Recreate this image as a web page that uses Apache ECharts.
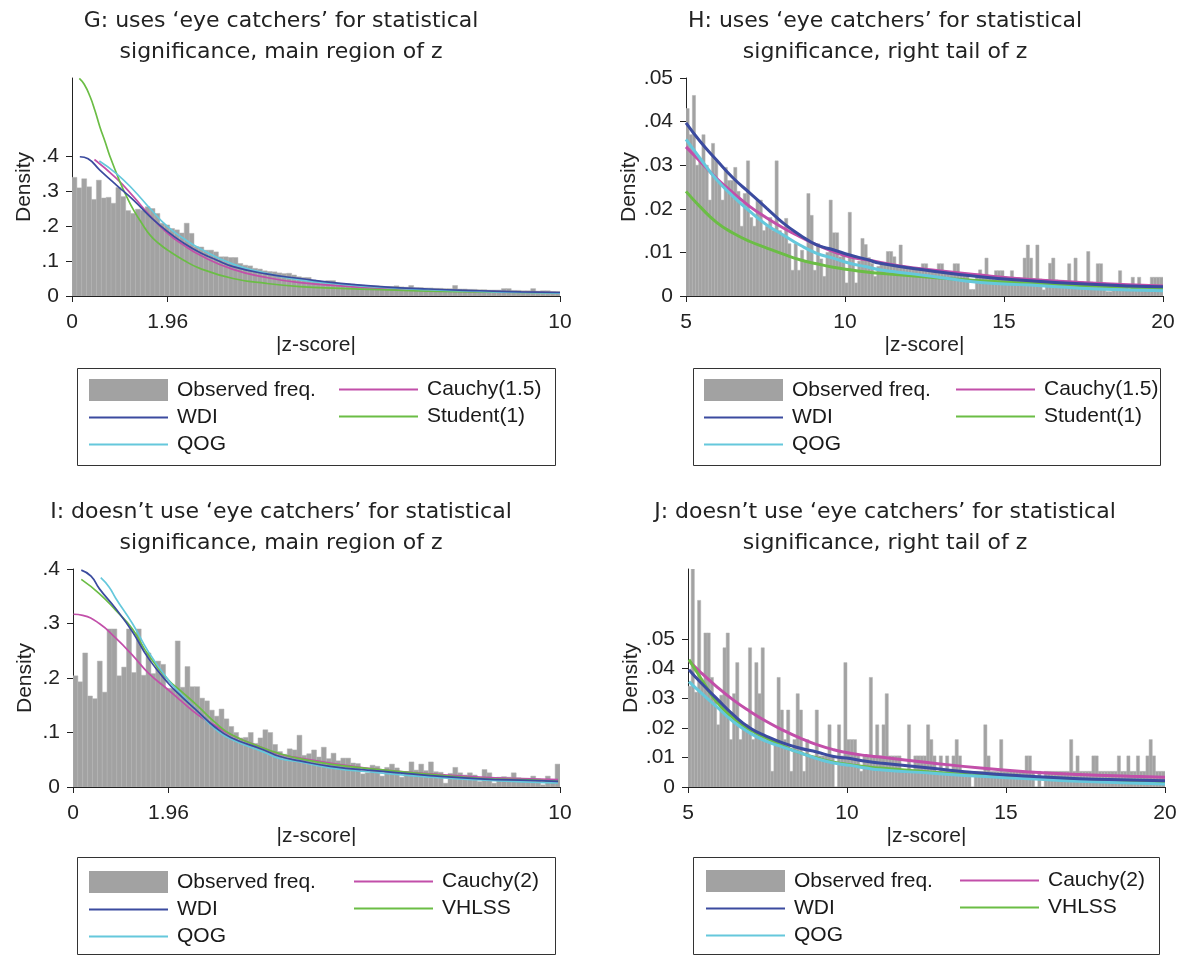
<!DOCTYPE html>
<html><head><meta charset="utf-8">
<script src="https://cdn.jsdelivr.net/npm/echarts@6/dist/echarts.min.js"></script>
<style>html,body{margin:0;padding:0;background:#fff}#c{width:1185px;height:956px}</style>
</head><body><div id="c"></div>
<script>
// ---------------- DATA ----------------
const gTitle = "G: uses \u2018eye catchers\u2019 for statistical\nsignificance, main region of z";
const hTitle = "H: uses \u2018eye catchers\u2019 for statistical\nsignificance, right tail of z";
const iTitle = "I: doesn\u2019t use \u2018eye catchers\u2019 for statistical\nsignificance, main region of z";
const jTitle = "J: doesn\u2019t use \u2018eye catchers\u2019 for statistical\nsignificance, right tail of z";

const mainXTicks = [0, 1.96, 10];
const tailXTicks = [5, 10, 15, 20];
const gYTicks = [0, 0.1, 0.2, 0.3, 0.4];
const hYTicks = [0, 0.01, 0.02, 0.03, 0.04, 0.05];
const iYTicks = [0, 0.1, 0.2, 0.3, 0.4];
const jYTicks = [0, 0.01, 0.02, 0.03, 0.04, 0.05];

// histogram bin heights (bin width 0.1)
const gBinStart = 0, hBinStart = 5, iBinStart = 0, jBinStart = 5, binWidth = 0.1;
const gBins = [
0.339,0.309,0.335,0.312,0.276,0.331,0.280,0.282,0.265,0.310,
0.284,0.244,0.236,0.248,0.245,0.255,0.250,0.236,0.208,0.203,
0.193,0.189,0.180,0.208,0.179,0.141,0.140,0.131,0.131,0.126,
0.112,0.112,0.110,0.110,0.093,0.088,0.086,0.079,0.077,0.072,
0.070,0.069,0.066,0.064,0.065,0.060,0.055,0.053,0.053,0.046,
0.043,0.041,0.044,0.044,0.037,0.036,0.035,0.034,0.032,0.031,
0.030,0.029,0.029,0.028,0.027,0.027,0.029,0.026,0.025,0.030,
0.024,0.024,0.023,0.023,0.022,0.022,0.021,0.021,0.030,0.020,
0.020,0.019,0.019,0.018,0.018,0.017,0.017,0.017,0.021,0.021,
0.016,0.016,0.015,0.015,0.021,0.014,0.015,0.015,0.013,0.013];
const hBins = [
0.043,0.037,0.046,0.030,0.031,0.037,0.030,0.022,0.035,0.031,
0.026,0.022,0.0295,0.0265,0.0265,0.0295,0.024,0.016,0.0235,0.031,
0.018,0.016,0.022,0.022,0.015,0.016,0.018,0.015,0.031,0.015,
0.014,0.0178,0.012,0.0059,0.012,0.0059,0.0105,0.008,0.0235,0.0185,
0.0059,0.012,0.0085,0.0045,0.010,0.022,0.0145,0.0145,0.009,0.0095,
0.003,0.0192,0.009,0.003,0.008,0.0132,0.0118,0.0088,0.0075,0.0045,
0.0068,0.0073,0.0075,0.0102,0.0102,0.009,0.007,0.0117,0.0065,0.0065,
0.0062,0.0062,0.006,0.006,0.0074,0.0074,0.0058,0.0058,0.0056,0.0074,
0.0074,0.0055,0.0054,0.0053,0.0074,0.0074,0.0052,0.0051,0.005,0.0015,
0.0015,0.0049,0.006,0.0048,0.0087,0.0047,0.0046,0.0058,0.0058,0.0058,
0.0044,0.0043,0.0058,0.0042,0.0042,0.0041,0.0087,0.0117,0.0087,0.004,
0.0117,0.0039,0.0014,0.0038,0.0075,0.0087,0.0037,0.0036,0.0036,0.0035,
0.0074,0.0034,0.0087,0.0033,0.0033,0.0032,0.0102,0.0032,0.0031,0.0074,
0.0074,0.003,0.001,0.001,0.0029,0.0029,0.0058,0.0028,0.0027,0.0014,
0.0043,0.0026,0.0043,0.0026,0.0025,0.0025,0.0043,0.0043,0.0043,0.0043];
const iBins = [
0.204,0.193,0.246,0.167,0.162,0.231,0.174,0.290,0.290,0.204,
0.220,0.290,0.210,0.290,0.205,0.246,0.208,0.231,0.225,0.181,
0.181,0.268,0.183,0.221,0.184,0.184,0.163,0.158,0.141,0.130,
0.143,0.125,0.111,0.100,0.090,0.091,0.100,0.080,0.090,0.105,
0.100,0.078,0.065,0.060,0.070,0.068,0.095,0.058,0.061,0.068,
0.055,0.073,0.052,0.062,0.048,0.053,0.053,0.044,0.043,0.024,
0.026,0.040,0.038,0.020,0.036,0.042,0.035,0.018,0.028,0.046,
0.031,0.042,0.030,0.046,0.028,0.027,0.007,0.025,0.036,0.026,
0.022,0.026,0.022,0.010,0.032,0.026,0.007,0.018,0.019,0.018,
0.026,0.017,0.016,0.016,0.020,0.015,0.004,0.020,0.014,0.042];
const jBins = [
0.034,0.0736,0.032,0.063,0.035,0.052,0.052,0.037,0.030,0.021,
0.031,0.047,0.052,0.016,0.0315,0.042,0.016,0.021,0.021,0.047,
0.016,0.042,0.0315,0.047,0.016,0.016,0.0053,0.016,0.037,0.026,
0.016,0.026,0.0053,0.016,0.0315,0.026,0.0053,0.016,0.0105,0.0105,
0.026,0.0105,0.0105,0.0105,0.021,0.0105,0,0.021,0.0105,0.042,
0.016,0.016,0.016,0.0105,0.0053,0.0105,0.0105,0.037,0.0105,0.021,
0.0105,0.021,0.0315,0.0105,0.0105,0.0105,0.0105,0.0053,0.0053,0.021,
0.0053,0.0105,0.0105,0.0105,0.0105,0.021,0.016,0.0105,0.0053,0.0105,
0.0053,0.0105,0.0053,0.0105,0.016,0.0105,0.0053,0.0053,0.0053,0,
0.0053,0.0053,0.0053,0.021,0.0105,0.0053,0.0053,0.0053,0.016,0.0053,
0.0053,0.0053,0.0053,0.0053,0.0053,0.0053,0.0105,0.0105,0.0053,0,
0.0053,0,0.0053,0.0053,0.0053,0.0053,0.0053,0.0053,0.0053,0.0053,
0.016,0.0053,0.0105,0.0053,0.0053,0.0053,0.0053,0.0105,0.0105,0.0053,
0.0053,0.0053,0.0053,0.0053,0.0053,0.0105,0.0053,0.0053,0.0105,0.0053,
0.0053,0.0105,0.0053,0.0053,0.0105,0.016,0.0105,0.0053,0.0053,0.0053];

// fitted density curves [z, density]
const gWDI = [[0.16,0.398],[0.33,0.392],[0.57,0.36],[0.91,0.317],[1.26,0.274],[1.6,0.227],[1.96,0.184],[2.28,0.152],[2.62,0.124],[2.96,0.103],[3.3,0.084],[3.98,0.063],[4.67,0.05],[5.5,0.036],[6.31,0.027],[7.3,0.02],[8.36,0.015],[9.2,0.012],[10,0.01]];
const gQOG = [[0.56,0.386],[0.91,0.35],[1.26,0.303],[1.6,0.25],[1.96,0.198],[2.28,0.165],[2.62,0.136],[3.3,0.091],[3.98,0.065],[4.67,0.046],[5.5,0.034],[6.31,0.025],[7.3,0.018],[8.36,0.013],[9.2,0.010],[10,0.008]];
const gCauchy = [[0.46,0.39],[0.91,0.336],[1.26,0.284],[1.6,0.229],[1.96,0.179],[2.28,0.146],[2.62,0.117],[3.3,0.076],[3.98,0.053],[4.67,0.038],[5.5,0.029],[6.31,0.022],[7.3,0.017],[8.36,0.013],[9.2,0.011],[10,0.009]];
const gStudent = [[0.15,0.622],[0.25,0.605],[0.37,0.57],[0.47,0.53],[0.57,0.484],[0.68,0.44],[0.78,0.398],[0.98,0.327],[1.12,0.284],[1.26,0.246],[1.42,0.21],[1.6,0.174],[1.78,0.15],[1.96,0.131],[2.28,0.103],[2.62,0.079],[3.3,0.05],[3.98,0.036],[4.67,0.027],[5.5,0.022],[6.31,0.018],[7.3,0.014],[8.36,0.012],[9.2,0.010],[10,0.009]];

const hWDI = [[5.0,0.0397],[5.44,0.0355],[5.96,0.0312],[6.49,0.027],[7.01,0.0236],[7.54,0.0201],[8.06,0.0167],[8.58,0.014],[9.11,0.0117],[9.63,0.0106],[10.15,0.0094],[10.68,0.0084],[11.1,0.0075],[12.67,0.0058],[14.25,0.0044],[15.82,0.0035],[17.39,0.0028],[18.96,0.0023],[20,0.0021]];
const hQOG = [[5.0,0.0359],[5.44,0.0316],[5.96,0.0267],[6.49,0.0228],[7.01,0.0194],[7.54,0.0163],[8.06,0.014],[8.58,0.0117],[9.11,0.0098],[9.63,0.0087],[10.15,0.0075],[10.68,0.0067],[11.1,0.006],[11.73,0.0054],[12.67,0.0046],[14.25,0.0031],[15.82,0.0025],[17.39,0.0018],[18.96,0.0014],[20,0.0012]];
const hCauchy = [[5.0,0.0342],[5.44,0.0309],[5.96,0.027],[6.49,0.0236],[7.01,0.0205],[7.54,0.0179],[8.06,0.0156],[8.58,0.0136],[9.11,0.0117],[9.63,0.0102],[10.15,0.009],[10.68,0.0083],[11.73,0.0069],[12.67,0.006],[14.25,0.0048],[15.82,0.0038],[17.39,0.0031],[20,0.0023]];
const hStudent = [[5.0,0.024],[5.44,0.0205],[5.96,0.0169],[6.49,0.0144],[7.01,0.0125],[7.54,0.011],[8.06,0.0096],[8.58,0.0083],[9.11,0.0074],[9.63,0.0066],[10.15,0.006],[10.68,0.0055],[11.1,0.0052],[12.67,0.0043],[14.25,0.0035],[15.82,0.0029],[17.39,0.0024],[20,0.0017]];

const iWDI = [[0.17,0.398],[0.37,0.387],[0.54,0.364],[0.88,0.327],[1.22,0.285],[1.55,0.236],[1.96,0.19],[2.23,0.166],[2.57,0.138],[2.9,0.111],[3.24,0.091],[3.92,0.068],[4.25,0.056],[4.66,0.048],[5.28,0.038],[6.3,0.029],[7.33,0.021],[8.36,0.015],[9.38,0.012],[9.96,0.0104]];
const iQOG = [[0.57,0.384],[0.74,0.367],[0.88,0.346],[1.22,0.3],[1.55,0.248],[1.96,0.196],[2.23,0.169],[2.57,0.138],[2.9,0.108],[3.24,0.088],[3.92,0.064],[4.25,0.052],[4.66,0.046],[5.28,0.035],[6.3,0.026],[7.33,0.018],[8.36,0.013],[9.38,0.009],[9.96,0.0073]];
const iCauchy = [[0.01,0.317],[0.2,0.315],[0.54,0.3],[0.88,0.273],[1.22,0.242],[1.55,0.209],[1.96,0.178],[2.23,0.157],[2.57,0.132],[2.9,0.114],[3.24,0.096],[3.92,0.071],[4.25,0.06],[4.66,0.053],[5.28,0.044],[6.3,0.032],[7.33,0.024],[8.36,0.018],[9.38,0.015],[9.96,0.0134]];
const iVHLSS = [[0.17,0.381],[0.54,0.355],[0.88,0.324],[1.22,0.29],[1.55,0.242],[1.96,0.196],[2.23,0.175],[2.57,0.148],[2.9,0.12],[3.24,0.097],[3.92,0.071],[4.25,0.061],[4.66,0.052],[5.28,0.042],[6.3,0.032],[7.33,0.023],[8.36,0.016],[9.38,0.013],[9.96,0.0104]];

const jWDI = [[5.03,0.0396],[5.37,0.0356],[5.89,0.030],[6.42,0.0244],[6.95,0.0199],[7.47,0.0171],[8.0,0.0148],[8.53,0.0131],[9.05,0.0118],[9.58,0.0103],[10.1,0.0096],[10.6,0.0087],[11.04,0.0081],[12.6,0.0064],[14.2,0.0047],[15.75,0.0036],[17.3,0.0028],[18.9,0.0024],[20,0.0021]];
const jQOG = [[5.03,0.0356],[5.37,0.0322],[5.89,0.0272],[6.42,0.0221],[6.95,0.0182],[7.47,0.0154],[8.0,0.0134],[8.53,0.0115],[9.05,0.0096],[9.58,0.0081],[10.1,0.0073],[10.6,0.0064],[11.04,0.0058],[12.6,0.0047],[14.2,0.0036],[15.75,0.0028],[17.3,0.0019],[20,0.001]];
const jCauchy = [[5.03,0.0426],[5.37,0.039],[5.89,0.034],[6.42,0.0294],[6.95,0.0255],[7.47,0.0221],[8.0,0.0191],[8.53,0.0165],[9.05,0.0143],[9.58,0.0126],[10.1,0.0114],[10.6,0.0106],[11.04,0.0101],[12.6,0.0082],[14.2,0.0064],[15.75,0.0051],[17.3,0.0042],[18.9,0.0036],[20,0.0033]];
const jVHLSS = [[5.03,0.043],[5.37,0.0373],[5.89,0.0289],[6.42,0.0233],[6.95,0.0193],[7.47,0.0165],[8.0,0.0137],[8.53,0.0115],[9.05,0.0098],[9.58,0.0084],[10.1,0.0075],[10.6,0.0068],[11.04,0.0064],[12.6,0.0051],[14.2,0.0039],[15.75,0.003],[17.3,0.0022],[20,0.0015]];

// ---------------- STYLE ----------------
const FONT = '"Liberation Sans", Arial, sans-serif';
const TFONT = '"DejaVu Sans", Verdana, sans-serif';
const C = {bar:'#a2a2a2', wdi:'#3b4b9f', qog:'#65c8dc', cauchy:'#c24fa9', green:'#6bbd45', axis:'#222'};

function fmt(v){ if (Math.abs(v) < 1e-9) return '0'; return String(+v.toFixed(3)).replace(/^0\./, '.'); }
function binData(start, arr){ return arr.map((h,k)=>[start + k*binWidth, start + (k+1)*binWidth, h]); }

const panels = [
 {title:gTitle, tx:276, ty:1, grid:{left:72, top:78, width:488, height:218}, xmin:0, xmax:10, xticks:mainXTicks, ymax:0.623, yticks:gYTicks,
  bins:binData(gBinStart,gBins), lw:1.7, lines:[['Cauchy(1.5)',gCauchy,C.cauchy],['Student(1)',gStudent,C.green],['QOG',gQOG,C.qog],['WDI',gWDI,C.wdi]],
  leftCol:['Observed freq.','WDI','QOG'], rightCol:['Cauchy(1.5)','Student(1)'], lx:88, rx:338, ly:379, box:[77,368,478,97]},
 {title:hTitle, tx:880, ty:1, grid:{left:686, top:78, width:477, height:218}, xmin:5, xmax:20, xticks:tailXTicks, ymax:0.05, yticks:hYTicks,
  bins:binData(hBinStart,hBins), lw:3, lines:[['Cauchy(1.5)',hCauchy,C.cauchy],['Student(1)',hStudent,C.green],['QOG',hQOG,C.qog],['WDI',hWDI,C.wdi]],
  leftCol:['Observed freq.','WDI','QOG'], rightCol:['Cauchy(1.5)','Student(1)'], lx:703, rx:955, ly:379, box:[693,368,467,97]},
 {title:iTitle, tx:276, ty:492, grid:{left:73, top:569, width:487, height:218}, xmin:0, xmax:10, xticks:mainXTicks, ymax:0.4, yticks:iYTicks,
  bins:binData(iBinStart,iBins), lw:1.7, lines:[['Cauchy(2)',iCauchy,C.cauchy],['VHLSS',iVHLSS,C.green],['QOG',iQOG,C.qog],['WDI',iWDI,C.wdi]],
  leftCol:['Observed freq.','WDI','QOG'], rightCol:['Cauchy(2)','VHLSS'], lx:88, rx:353, ly:871, box:[77,857,478,97]},
 {title:jTitle, tx:880, ty:492, grid:{left:688, top:569, width:477, height:218}, xmin:5, xmax:20, xticks:tailXTicks, ymax:0.0736, yticks:jYTicks,
  bins:binData(jBinStart,jBins), lw:3, lines:[['Cauchy(2)',jCauchy,C.cauchy],['VHLSS',jVHLSS,C.green],['QOG',jQOG,C.qog],['WDI',jWDI,C.wdi]],
  leftCol:['Observed freq.','WDI','QOG'], rightCol:['Cauchy(2)','VHLSS'], lx:705, rx:959, ly:870, box:[693,857,466,97]}
];

const option = {animation:false, backgroundColor:'#fff', title:[], grid:[], xAxis:[], yAxis:[], series:[], legend:[], graphic:[]};
const labelStyle = {color:C.axis, fontFamily:FONT, fontSize:21};

panels.forEach((p, idx)=>{
  option.title.push({text:p.title, left:p.tx, top:p.ty, textAlign:'center',
    textStyle:{fontFamily:TFONT, fontSize:22, fontWeight:'normal', color:'#222', lineHeight:31}});
  option.grid.push(Object.assign({containLabel:false}, p.grid));
  option.xAxis.push({type:'value', gridIndex:idx, min:p.xmin, max:p.xmax,
    name:'|z-score|', nameLocation:'middle', nameGap:39, nameTextStyle:labelStyle,
    axisLine:{show:true, onZero:false, lineStyle:{color:C.axis, width:1}},
    axisTick:{show:true, length:6, customValues:p.xticks, lineStyle:{color:C.axis}},
    axisLabel:Object.assign({customValues:p.xticks, margin:16, formatter:(v)=>String(v), hideOverlap:false, showMinLabel:true, showMaxLabel:true}, labelStyle),
    splitLine:{show:false}});
  option.yAxis.push({type:'value', gridIndex:idx, min:0, max:p.ymax,
    name:'Density', nameLocation:'middle', nameGap:37, nameTextStyle:labelStyle,
    axisLine:{show:true, onZero:false, lineStyle:{color:C.axis, width:1}},
    axisTick:{show:true, length:6, customValues:p.yticks, lineStyle:{color:C.axis}},
    axisLabel:Object.assign({customValues:p.yticks, margin:13, formatter:fmt}, labelStyle),
    splitLine:{show:false}});
  option.series.push({type:'custom', name:'Observed freq.', xAxisIndex:idx, yAxisIndex:idx, z:1,
    itemStyle:{color:C.bar}, encode:{x:[0,1], y:2}, data:p.bins, clip:true,
    renderItem:(params, api)=>{
      const a = api.coord([api.value(0), api.value(2)]);
      const b = api.coord([api.value(1), 0]);
      return {type:'rect', shape:{x:a[0], y:a[1], width:b[0]-a[0], height:b[1]-a[1]},
        style:{fill:C.bar, stroke:'#b3b3b3', lineWidth:0.5}};
    }});
  p.lines.forEach(([name, data, col])=>{
    option.series.push({type:'line', name, xAxisIndex:idx, yAxisIndex:idx, data, z:3,
      color:col, showSymbol:false, symbol:'circle', symbolSize:0, smooth:0.5, clip:true,
      lineStyle:{color:col, width:p.lw}});
  });
  const legBase = {orient:'vertical', top:p.ly, itemWidth:79, itemHeight:22, itemGap:6, padding:0,
    selectedMode:false, textStyle:{fontFamily:FONT, fontSize:21, color:'#1a1a1a', padding:[0,0,0,4]}};
  const lineItem = (n)=>({name:n, itemStyle:{opacity:0, borderWidth:0}});
  option.legend.push(Object.assign({}, legBase, {left:p.lx,
    data:p.leftCol.map(n=> n==='Observed freq.' ? {name:n, icon:'rect', itemStyle:{color:C.bar}} : lineItem(n))}));
  option.legend.push(Object.assign({}, legBase, {left:p.rx, data:p.rightCol.map(lineItem)}));
  option.graphic.push({type:'rect', silent:true, shape:{x:p.box[0]+0.5, y:p.box[1]+0.5, width:p.box[2], height:p.box[3]},
    style:{fill:'none', stroke:'#333', lineWidth:1}});
});

const chart = echarts.init(document.getElementById('c'), null, {renderer:'canvas', width:1185, height:956});
chart.setOption(option);
</script></body></html>
